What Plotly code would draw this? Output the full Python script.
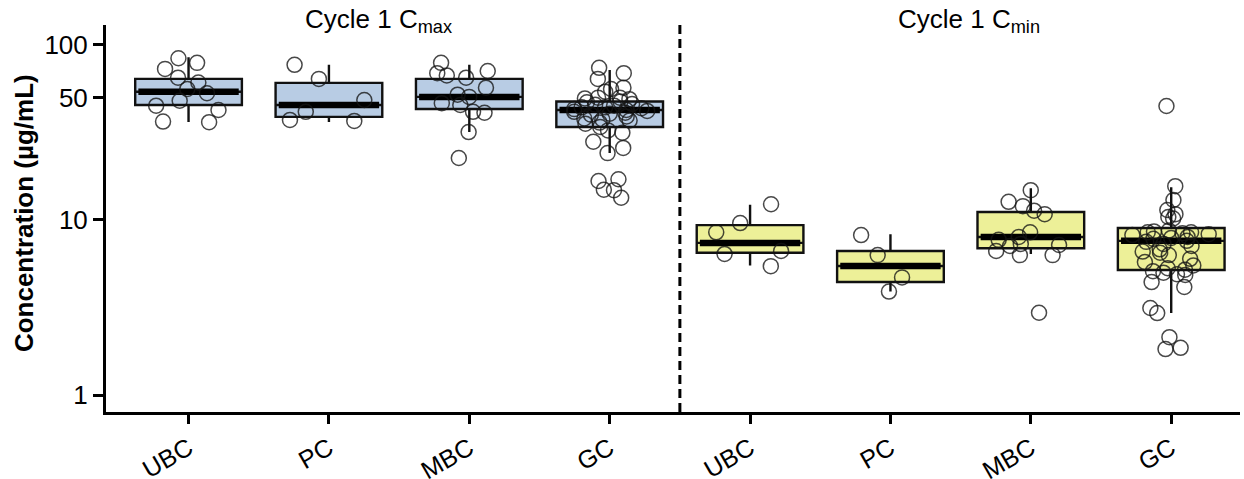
import plotly.graph_objects as go

# ---------------- data ----------------
categories = ["UBC", "PC", "MBC", "GC"]
panel_titles = ["Cycle 1 C<sub>max</sub>", "Cycle 1 C<sub>min</sub>"]

# individual observations, µg/mL
cmax_ubc = [84, 79, 73, 65, 61, 56, 53, 48, 45, 42.5, 36.5, 36.2]
cmax_pc = [77, 64, 48.5, 41.5, 37.3, 36.8]
cmax_mbc = [79, 71, 69, 67, 65, 57, 52, 50.5, 46.5, 45.4, 41.5, 41.0, 31.8, 22.6]
cmax_gc = [74, 69, 64, 57, 56, 54, 50, 50, 49.5, 49, 47.5,
           47, 46, 45.5, 45, 44, 44, 43.5, 43, 42.5, 42, 41.5, 41, 40.5, 40, 39, 38, 37.5, 37,
           36, 35.5, 34, 32.5, 31.5, 28, 25.8, 24.1, 17.1, 16.7, 14.9, 14.8, 13.4]

cmin_ubc = [12.3, 9.6, 8.5, 6.65, 6.4, 5.45]
cmin_pc = [8.2, 6.3, 4.7, 3.9]
cmin_mbc = [14.8, 12.7, 12.0, 11.3, 10.8, 8.5, 8.0, 7.7, 7.3, 7.2, 7.1, 6.65, 6.3, 6.3, 2.95]
cmin_gc = [44.8, 15.6, 13.0, 11.4, 10.8, 10.4, 10.2,
           8.7, 8.6, 8.5, 8.5, 8.4, 8.3, 8.2, 8.0, 7.9, 7.8, 7.6, 7.5, 7.3, 7.1, 6.8, 6.6, 6.5,
           6.3, 6.0, 5.75, 5.5,
           5.3, 5.2, 5.1, 5.0, 4.9, 4.85, 4.42, 4.14, 3.14, 2.94, 2.14, 1.86, 1.83]

# box statistics
cmax_q1 = [45.4, 38.8, 43.1, 34.0]
cmax_median = [54.0, 45.4, 50.5, 42.5]
cmax_q3 = [64.0, 60.7, 64.0, 47.5]
cmax_lower = [36.3, 36.3, 31.8, 24.1]
cmax_upper = [85.0, 77.0, 77.0, 72.0]

cmin_q1 = [6.5, 4.42, 6.9, 5.18]
cmin_median = [7.4, 5.46, 8.0, 7.6]
cmin_q3 = [9.35, 6.65, 11.1, 9.0]
cmin_lower = [5.5, 3.9, 6.4, 2.94]
cmin_upper = [12.2, 8.3, 15.2, 15.4]

y_tick_values = [1, 10, 50, 100]
y_tick_labels = ["1", "10", "50", "100"]

# ---------------- figure ----------------
FONT = "Arial, Liberation Sans, Helvetica, sans-serif"
BOX_W = 0.76
panels = [
    dict(points=[cmax_ubc, cmax_pc, cmax_mbc, cmax_gc], q1=cmax_q1, med=cmax_median,
         q3=cmax_q3, lo=cmax_lower, hi=cmax_upper, fill="#b8cce4"),
    dict(points=[cmin_ubc, cmin_pc, cmin_mbc, cmin_gc], q1=cmin_q1, med=cmin_median,
         q3=cmin_q3, lo=cmin_lower, hi=cmin_upper, fill="#edf098"),
]

fig = go.Figure()
n = len(categories)
for p, pan in enumerate(panels):
    pos = [p * n + i for i in range(n)]
    fig.add_trace(go.Box(
        x=pos, q1=pan["q1"], median=pan["med"], q3=pan["q3"],
        lowerfence=pan["lo"], upperfence=pan["hi"],
        fillcolor=pan["fill"], line=dict(color="#111111", width=2.4),
        width=BOX_W, whiskerwidth=0, boxpoints=False, hoverinfo="skip",
    ))
    # thick median bar
    fig.add_trace(go.Box(
        x=pos, q1=pan["med"], median=pan["med"], q3=pan["med"],
        lowerfence=pan["med"], upperfence=pan["med"],
        fillcolor="black", line=dict(color="black", width=6.5),
        width=BOX_W - 0.045, whiskerwidth=0, boxpoints=False, hoverinfo="skip",
    ))

for p, pan in enumerate(panels):
    xs, ys = [], []
    for i, vals in enumerate(pan["points"]):
        xs += [p * n + i] * len(vals)
        ys += vals
    fig.add_trace(go.Box(
        x=xs, y=ys, boxpoints="all", jitter=0.75, pointpos=0,
        fillcolor="rgba(0,0,0,0)", line=dict(color="rgba(0,0,0,0)", width=0),
        width=BOX_W, whiskerwidth=0,
        marker=dict(symbol="circle-open", size=15, color="rgba(20,20,20,0.78)",
                    line=dict(width=1.5, color="rgba(20,20,20,0.78)")),
        hoverinfo="y",
    ))

# divider between panels
fig.add_shape(type="line", xref="x", yref="paper", x0=n - 0.5, x1=n - 0.5, y0=0, y1=1,
              line=dict(color="black", width=3, dash="9px,5px"))

# panel titles
for p, t in enumerate(panel_titles):
    fig.add_annotation(text=t, x=p * n + (n - 1) / 2 - 0.15 + p * 0.21, xref="x",
                       y=1.012, yref="paper", yanchor="middle", showarrow=False,
                       font=dict(family=FONT, size=26, color="black"))

# y axis title
fig.add_annotation(text="<b>Concentration (µg/mL)</b>", textangle=-90,
                   x=-0.0723, xref="paper", y=0.514, yref="paper",
                   xanchor="center", yanchor="middle", showarrow=False,
                   font=dict(family=FONT, size=26, color="black"))

fig.update_layout(
    width=1244, height=479,
    margin=dict(l=106, r=4, t=25, b=67),
    plot_bgcolor="white", paper_bgcolor="white",
    showlegend=False, boxmode="overlay",
    font=dict(family=FONT, size=26, color="black"),
)
fig.update_xaxes(
    range=[-0.588, 2 * n - 0.51], automargin=False,
    tickvals=list(range(2 * n)), ticktext=categories * 2, tickangle=-30,
    showline=True, linecolor="black", linewidth=3,
    ticks="outside", ticklen=9, tickwidth=3, tickcolor="black",
    showgrid=False, zeroline=False, tickfont=dict(size=25),
)
fig.update_yaxes(
    type="log", range=[-0.097, 2.114], automargin=False,
    tickvals=y_tick_values, ticktext=y_tick_labels,
    showline=True, linecolor="black", linewidth=3,
    ticks="outside", ticklen=10, tickwidth=3, tickcolor="black",
    showgrid=False, zeroline=False, tickfont=dict(size=26),
)

# remove the default page margin so the figure sits at the window's top-left corner
fig.write_html("out.html", config={"displayModeBar": False},
               post_script="document.body.style.margin='0';document.body.style.overflow='hidden';")
